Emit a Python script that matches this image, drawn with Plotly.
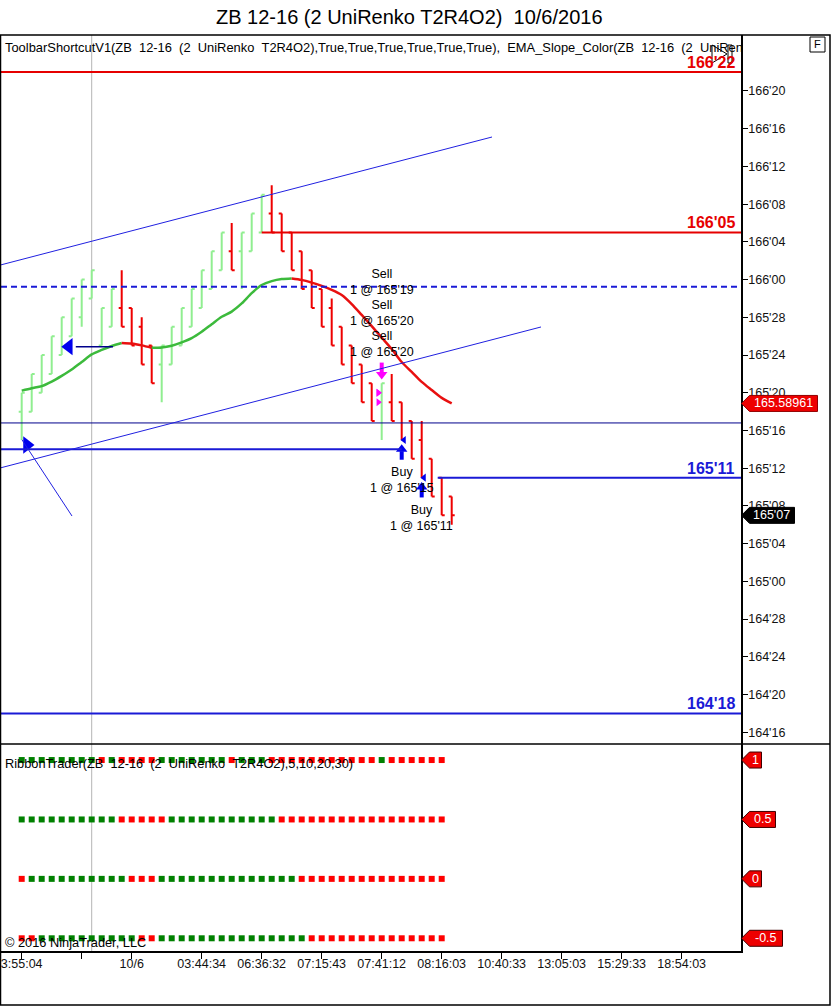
import plotly.graph_objects as go

# ---------------- data ----------------
title_text = "ZB 12-16 (2 UniRenko T2R4O2)\u00a0\u00a010/6/2016"
toolbar_text = ("ToolbarShortcutV1(ZB\u00a0\u00a012-16\u00a0\u00a0(2\u00a0\u00a0UniRenko\u00a0\u00a0T2R4O2),"
                "True,True,True,True,True,True),\u00a0\u00a0EMA_Slope_Color(ZB\u00a0\u00a012-16\u00a0\u00a0(2\u00a0\u00a0UniRen")
ribbon_text = "RibbonTrader(ZB\u00a0\u00a012-16\u00a0\u00a0(2\u00a0\u00a0UniRenko\u00a0\u00a0T2R4O2),5,10,20,30)"
copyright_text = "\u00a9 2016 NinjaTrader, LLC"

bar_open = ["165'18", "165'18", "165'20", "165'22", "165'24", "165'26", "165'28", "165'30", "165'25", "165'27",
            "165'29", "165'29", "165'27", "165'25", "165'23", "165'23", "165'25", "165'27", "165'29", "165'31",
            "166'01", "166'03", "166'03", "166'03", "166'05", "166'07", "166'07", "166'05", "166'03", "166'01",
            "165'31", "165'29", "165'27", "165'25", "165'23", "165'21", "165'19", "165'19", "165'19", "165'17",
            "165'15", "165'13", "165'11", "165'09"]
bar_high = ["165'20", "165'22", "165'24", "165'26", "165'28", "165'30", "166'00", "166'01", "165'29", "165'31",
            "166'01", "165'29", "165'28", "165'25", "165'25", "165'27", "165'29", "165'31", "166'01", "166'03",
            "166'05", "166'06", "166'05", "166'07", "166'09", "166'10", "166'07", "166'05", "166'03", "166'01",
            "165'31", "165'30", "165'27", "165'25", "165'23", "165'21", "165'21", "165'22", "165'19", "165'17",
            "165'17", "165'13", "165'11", "165'09"]
bar_low = ["165'15", "165'18", "165'20", "165'22", "165'24", "165'26", "165'27", "165'30", "165'25", "165'27",
           "165'27", "165'25", "165'23", "165'21", "165'19", "165'23", "165'25", "165'27", "165'29", "165'31",
           "166'01", "166'01", "165'31", "166'03", "166'05", "166'05", "166'03", "166'01", "165'31", "165'29",
           "165'27", "165'25", "165'23", "165'21", "165'19", "165'17", "165'15", "165'17", "165'15", "165'13",
           "165'11", "165'09", "165'07", "165'06"]
bar_close = ["165'20", "165'22", "165'24", "165'26", "165'28", "165'30", "166'00", "166'01", "165'29", "165'31",
             "165'27", "165'25", "165'23", "165'21", "165'25", "165'27", "165'29", "165'31", "166'01", "166'03",
             "166'05", "166'01", "166'05", "166'07", "166'09", "166'05", "166'03", "166'01", "165'31", "165'29",
             "165'27", "165'25", "165'23", "165'21", "165'19", "165'17", "165'21", "165'17", "165'15", "165'13",
             "165'11", "165'09", "165'07", "165'07"]

ema_values = [165.632, 165.640, 165.647, 165.662, 165.681, 165.702, 165.727, 165.752, 165.767, 165.780,
              165.790, 165.788, 165.782, 165.774, 165.775, 165.781, 165.792, 165.806, 165.827, 165.852,
              165.877, 165.894, 165.921, 165.955, 165.982, 165.995, 166.002, 166.004, 165.999, 165.990,
              165.979, 165.966, 165.949, 165.919, 165.883, 165.846, 165.808, 165.770, 165.727, 165.694,
              165.661, 165.634, 165.608, 165.58961]

price_tick_labels = ["164'16", "164'20", "164'24", "164'28", "165'00", "165'04", "165'08", "165'12",
                     "165'16", "165'20", "165'24", "165'28", "166'00", "166'04", "166'08", "166'12",
                     "166'16", "166'20"]
time_tick_pos = [0, 6, 11, 18, 24, 30, 36, 42, 48, 54, 60, 66]
time_tick_labels = ["3:55:04", "", "10/6", "03:44:34", "06:36:32", "07:15:43", "07:41:12", "08:16:03",
                    "10:40:33", "13:05:03", "15:29:33", "18:54:03"]

ribbon_levels = [1, 0.5, 0, -0.5]
ribbon_labels = ["1", "0.5", "0", "-0.5"]
ribbon_states = [
    "GGGGGGGG" "R" "G" "RRRR" "GGGGGGG" "R" "GGG" "RRRRRRRRRRR" "G" "RRRRRR",
    "GGGGGGGGGG" "RRRRR" "GGGGGGGGGGG" "RRRRRRRRRRRRRRRRR",
    "R" "GGGGGGGGGG" "RRR" "GGGGGGGGGGGGGG" "RRRRRRRRRRRRRRR",
    "RR" "GGGGGGGGGG" "RR" "GGGGGGGGGGGGGGG" "RRRRRRRRRRRRRR",
]

# labelled horizontal levels: price, first bar (None = from left edge)
labelled_levels = ["166'22", "166'05", "165'11", "164'18"]
labelled_start = [None, 24, 41.6, None]
labelled_colors = ["#e60000", "#e60000", "#1a1ad6", "#1a1ad6"]
# other horizontal drawing objects
dashed_level = 165.976
thin_level = 165.525
stop_level = "165'14"
stop_level_end = 38

# trend-channel / ray drawing objects: (bar0, price0, bar1, price1)
channel_lines = [(-2.17, 166.048, 47.03, 166.4725),
                 (-2.17, 165.3757, 51.93, 165.843),
                 (0.03, 165.469, 5.03, 165.2166)]
# drawn arrow objects
arrow_left = (4.71, 165.7778, 9.13)      # bar, price, tail bar
arrow_right = (0.53, 165.452)

# executions
sell_bar = 36
sell_prices = ["165'19", "165'20", "165'20"]
buy_bars = [38, 40]
buy_prices = ["165'15", "165'11"]

# ---------------- helpers / style ----------------
FONT = "Arial, Liberation Sans, sans-serif"
GREEN_BAR = "#90ee90"
RED = "#ee0000"
BLUE = "#1a1ad6"
W, H = 831, 1006
ML, MR, MT, MB = 1, 90, 35, 55
PW, PH = W - ML - MR, H - MT - MB


def to_price(s):
    h, t = s.split("'")
    return int(h) + int(t) / 32.0


def PX(x):
    return (x - ML) / PW


def PY(y):
    return (H - MB - y) / PH


X_RANGE = [-2.07, 71.93]
Y_RANGE = [164.46119, 166.81048]
Y2_RANGE = [-0.607, 1.135]
SPLIT = PY(744)
TICK = 1 / 32.0

bars_x = list(range(len(bar_open)))
O = [to_price(s) for s in bar_open]
Hh = [to_price(s) for s in bar_high]
L = [to_price(s) for s in bar_low]
C = [to_price(s) for s in bar_close]

fig = go.Figure()

fig.add_trace(go.Ohlc(
    x=bars_x, open=O, high=Hh, low=L, close=C, xaxis="x", yaxis="y",
    increasing=dict(line=dict(color=GREEN_BAR, width=2)),
    decreasing=dict(line=dict(color=RED, width=2)),
    tickwidth=0.3, hoverinfo="skip", showlegend=False))

# EMA coloured by slope
runs = []
for i in range(len(ema_values) - 1):
    up = ema_values[i + 1] >= ema_values[i]
    if runs and runs[-1][0] == up:
        runs[-1][1].append(i + 1)
    else:
        runs.append([up, [i, i + 1]])
for up, idx in runs:
    fig.add_trace(go.Scatter(
        x=idx, y=[ema_values[j] for j in idx], mode="lines", xaxis="x", yaxis="y",
        line=dict(color="#3cba3c" if up else "#e81010", width=2.5, shape="spline", smoothing=0.8),
        hoverinfo="skip", showlegend=False))

# drawn arrows
ax, ay, atail = arrow_left
fig.add_trace(go.Scatter(x=[ax + 0.7, atail], y=[ay, ay], mode="lines", line=dict(color="#00008b", width=1.5),
                         xaxis="x", yaxis="y", hoverinfo="skip", showlegend=False))
fig.add_trace(go.Scatter(x=[ax], y=[ay], mode="markers", xaxis="x", yaxis="y",
                         marker=dict(symbol="triangle-left", size=15, color="#0000ee"),
                         hoverinfo="skip", showlegend=False))
fig.add_trace(go.Scatter(x=[arrow_right[0]], y=[arrow_right[1]], mode="markers", xaxis="x", yaxis="y",
                         marker=dict(symbol="triangle-right", size=15, color="#0000ee"),
                         hoverinfo="skip", showlegend=False))

# execution markers
sell_hi = Hh[sell_bar]
fig.add_trace(go.Scatter(x=[sell_bar, sell_bar], y=[sell_hi + 2.2 * TICK, sell_hi + 1.2 * TICK], mode="lines",
                         line=dict(color="#ff00ff", width=4), xaxis="x", yaxis="y",
                         hoverinfo="skip", showlegend=False))
fig.add_trace(go.Scatter(x=[sell_bar], y=[sell_hi + 0.95 * TICK], mode="markers",
                         marker=dict(symbol="triangle-down", size=10, color="#ff00ff"),
                         xaxis="x", yaxis="y", hoverinfo="skip", showlegend=False))
fig.add_trace(go.Scatter(x=[sell_bar - 0.34] * len(sell_prices), y=[to_price(p) for p in sell_prices],
                         mode="markers", marker=dict(symbol="triangle-right", size=7, color="#ff00ff"),
                         xaxis="x", yaxis="y", hoverinfo="skip", showlegend=False))
for b, p in zip(buy_bars, buy_prices):
    lo = L[b]
    fig.add_trace(go.Scatter(x=[b, b], y=[lo - 2.1 * TICK, lo - 1.2 * TICK], mode="lines",
                             line=dict(color="#0000ee", width=4), xaxis="x", yaxis="y",
                             hoverinfo="skip", showlegend=False))
    fig.add_trace(go.Scatter(x=[b], y=[lo - 1.0 * TICK], mode="markers",
                             marker=dict(symbol="triangle-up", size=10, color="#0000ee"),
                             xaxis="x", yaxis="y", hoverinfo="skip", showlegend=False))
    fig.add_trace(go.Scatter(x=[b + 0.23], y=[to_price(p)], mode="markers",
                             marker=dict(symbol="triangle-left", size=7, color="#0000ee"),
                             xaxis="x", yaxis="y", hoverinfo="skip", showlegend=False))

# ribbon rows
for lvl, states in zip(ribbon_levels, ribbon_states):
    fig.add_trace(go.Scatter(
        x=list(range(len(states))), y=[lvl] * len(states), mode="markers", xaxis="x", yaxis="y2",
        marker=dict(symbol="square", size=6, color=["#008000" if s == "G" else "#ff0000" for s in states],
                    line=dict(width=0)),
        hoverinfo="skip", showlegend=False))

shapes = []
annotations = []

# session / cursor vertical line
shapes.append(dict(type="line", xref="x", yref="paper", x0=7, x1=7, y0=0, y1=1,
                   line=dict(color="#b4b4b4", width=1), layer="below"))

# horizontal levels
for lv, st, col in zip(labelled_levels, labelled_start, labelled_colors):
    p = to_price(lv)
    shapes.append(dict(type="line", xref="x", yref="y", x0=X_RANGE[0] if st is None else st, x1=X_RANGE[1],
                       y0=p, y1=p, line=dict(color=col, width=2)))
    annotations.append(dict(xref="paper", yref="y", x=PX(737), y=p, xanchor="right", yanchor="bottom",
                            yshift=-1, text="<b>%s</b>" % lv, showarrow=False,
                            font=dict(family=FONT, size=16, color=col)))
shapes.append(dict(type="line", xref="x", yref="y", x0=X_RANGE[0], x1=X_RANGE[1], y0=dashed_level,
                   y1=dashed_level, line=dict(color="#1a1ad6", width=2, dash="6px,4px")))
shapes.append(dict(type="line", xref="x", yref="y", x0=X_RANGE[0], x1=X_RANGE[1], y0=thin_level,
                   y1=thin_level, line=dict(color="#00008b", width=1)))
sp = to_price(stop_level)
shapes.append(dict(type="line", xref="x", yref="y", x0=X_RANGE[0], x1=stop_level_end, y0=sp, y1=sp,
                   line=dict(color=BLUE, width=2)))
for x0, y0, x1, y1 in channel_lines:
    shapes.append(dict(type="line", xref="x", yref="y", x0=x0, y0=y0, x1=x1, y1=y1,
                       line=dict(color="#2020e0", width=1)))

# frame
shapes.append(dict(type="rect", xref="paper", yref="paper", x0=PX(0.5), x1=PX(830), y0=PY(1005), y1=PY(35),
                   line=dict(color="black", width=1.5)))
shapes.append(dict(type="line", xref="paper", yref="paper", x0=PX(0), x1=PX(830), y0=SPLIT, y1=SPLIT,
                   line=dict(color="black", width=1.5)))
# F button
shapes.append(dict(type="rect", xref="paper", yref="paper", x0=PX(810), x1=PX(825), y0=PY(52), y1=PY(37),
                   line=dict(color="black", width=1), fillcolor="white", layer="below"))
annotations.append(dict(xref="paper", yref="paper", x=PX(817.5), y=PY(44.5), text="F", showarrow=False,
                        xanchor="center", yanchor="middle",
                        font=dict(family=FONT, size=11, color="black")))
# toolbar icon
shapes.append(dict(type="path", xref="paper", yref="paper",
                   path="M%f,%f L%f,%f L%f,%f Z" % (PX(712), PY(45), PX(712), PY(63), PX(727), PY(54)),
                   line=dict(color="black", width=1)))
shapes.append(dict(type="rect", xref="paper", yref="paper", x0=PX(728), x1=PX(732), y0=PY(63), y1=PY(45),
                   line=dict(color="black", width=1)))

# right-axis tags
AXPX = 741.5


def add_tag(value, yref, text, width, fill, border):
    shapes.append(dict(type="path", xref="paper", yref=yref, xsizemode="pixel", ysizemode="pixel",
                       xanchor=PX(AXPX), yanchor=value,
                       path="M0,0 L8,8 L%d,8 L%d,-8 L8,-8 Z" % (width, width),
                       fillcolor=fill, line=dict(color=border, width=1)))
    annotations.append(dict(xref="paper", yref=yref, x=PX(AXPX + 8 + (width - 8) / 2.0), y=value,
                            xanchor="center", yanchor="middle", text=text, showarrow=False,
                            font=dict(family=FONT, size=12.5, color="white")))


add_tag(ema_values[-1], "y", "%.5f" % ema_values[-1], 76, "#ee0000", "#900000")
add_tag(C[-1], "y", bar_close[-1], 53, "black", "black")
for lvl, lab in zip(ribbon_levels, ribbon_labels):
    add_tag(lvl, "y2", lab, 13 + 7 * len(lab), "#ee0000", "#400000")

# execution labels
n = len(sell_prices)
for i, p in enumerate(sell_prices):
    annotations.append(dict(xref="x", yref="y", x=sell_bar, y=sell_hi, xanchor="center", yanchor="bottom",
                            yshift=22 + 31 * (n - 1 - i), text="Sell<br>1 @ %s" % p, showarrow=False,
                            font=dict(family=FONT, size=12.5, color="black")))
for b, p in zip(buy_bars, buy_prices):
    annotations.append(dict(xref="x", yref="y", x=b, y=L[b], xanchor="center", yanchor="top",
                            yshift=-23, text="Buy<br>1 @ %s" % p, showarrow=False,
                            font=dict(family=FONT, size=12.5, color="black")))

# texts
annotations.append(dict(xref="paper", yref="paper", x=PX(409.5), y=PY(17), xanchor="center", yanchor="middle",
                        text=title_text, showarrow=False, font=dict(family=FONT, size=20, color="black")))
annotations.append(dict(xref="paper", yref="paper", x=PX(3), y=PY(47), xanchor="left", yanchor="middle",
                        text=toolbar_text, showarrow=False, font=dict(family=FONT, size=12.9, color="black")))
annotations.append(dict(xref="paper", yref="paper", x=PX(3), y=PY(763), xanchor="left", yanchor="middle",
                        text=ribbon_text, showarrow=False, font=dict(family=FONT, size=12.8, color="black")))
annotations.append(dict(xref="paper", yref="paper", x=PX(3), y=PY(942), xanchor="left", yanchor="middle",
                        text=copyright_text, showarrow=False, font=dict(family=FONT, size=12.8, color="black")))

fig.update_layout(
    width=W, height=H, margin=dict(l=ML, r=MR, t=MT, b=MB),
    paper_bgcolor="white", plot_bgcolor="white", showlegend=False, hovermode=False,
    font=dict(family=FONT, size=12.5, color="#111"),
    xaxis=dict(domain=[0, 1], range=X_RANGE, anchor="y2", showgrid=False, zeroline=False,
               showline=True, linecolor="black", linewidth=1.5, ticks="outside", ticklen=6,
               tickcolor="black", tickvals=time_tick_pos, ticktext=time_tick_labels,
               tickfont=dict(family=FONT, size=12.5, color="#111"), ticklabelstandoff=-6,
               rangeslider=dict(visible=False), fixedrange=True),
    yaxis=dict(domain=[SPLIT, 1], range=Y_RANGE, anchor="x", side="right", showgrid=False,
               zeroline=False, showline=True, linecolor="black", linewidth=1.5, ticks="outside",
               ticklen=5, tickcolor="black", tickvals=[to_price(s) for s in price_tick_labels],
               ticktext=price_tick_labels, tickfont=dict(family=FONT, size=12.5, color="#111"),
               ticklabelstandoff=-2, fixedrange=True),
    yaxis2=dict(domain=[0, SPLIT], range=Y2_RANGE, anchor="x", side="right", showgrid=False,
                zeroline=False, showline=True, linecolor="black", linewidth=1.5,
                showticklabels=False, ticks="", fixedrange=True),
    shapes=shapes, annotations=annotations,
)

fig.write_html("out.html", config={"displayModeBar": False},
               post_script="document.body.style.margin='0';document.body.style.overflow='hidden';")
